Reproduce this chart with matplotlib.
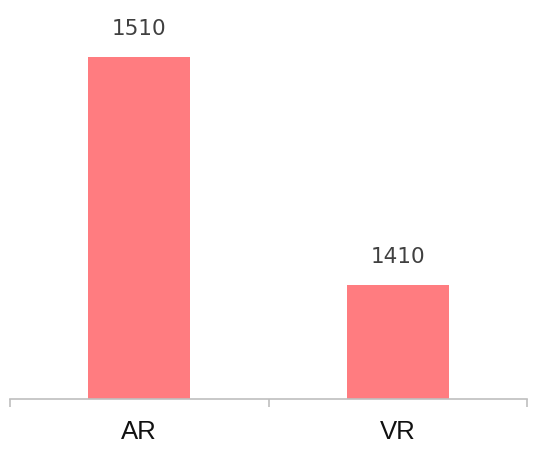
import matplotlib.pyplot as plt

categories = ['AR', 'VR']
values = [1510, 1410]

BAR_COLOR = '#ff7c80'
AXIS_COLOR = '#bfbfbf'

fig = plt.figure(figsize=(5.5, 4.74), dpi=100)
ax = fig.add_axes([10 / 550, 75 / 474, 517 / 550, 399 / 474])

x = list(range(len(categories)))
ax.bar(x, values, width=0.395, color=BAR_COLOR, zorder=2)

for xi, v in zip(x, values):
    ax.text(xi, v + 8, str(v), ha='center', va='bottom',
            fontsize=15.5, color='#404040', family='DejaVu Sans')

ax.set_xlim(-0.5, 1.5)
ax.set_ylim(1360, 1535)
ax.set_yticks([])

# category labels without tick marks, boundary ticks as minor ticks
ax.set_xticks(x)
ax.set_xticklabels(categories, fontsize=18.5, family='Liberation Sans', color='#111111')
ax.tick_params(axis='x', which='major', length=0, pad=15)
ax.set_xticks([-0.5, 0.5, 1.5], minor=True)
ax.tick_params(axis='x', which='minor', length=6, width=1.2, color=AXIS_COLOR, direction='out')

for side in ['top', 'left', 'right']:
    ax.spines[side].set_visible(False)
ax.spines['bottom'].set_color(AXIS_COLOR)
ax.spines['bottom'].set_linewidth(1.2)

plt.savefig('out.png', dpi=100)
plt.close()
